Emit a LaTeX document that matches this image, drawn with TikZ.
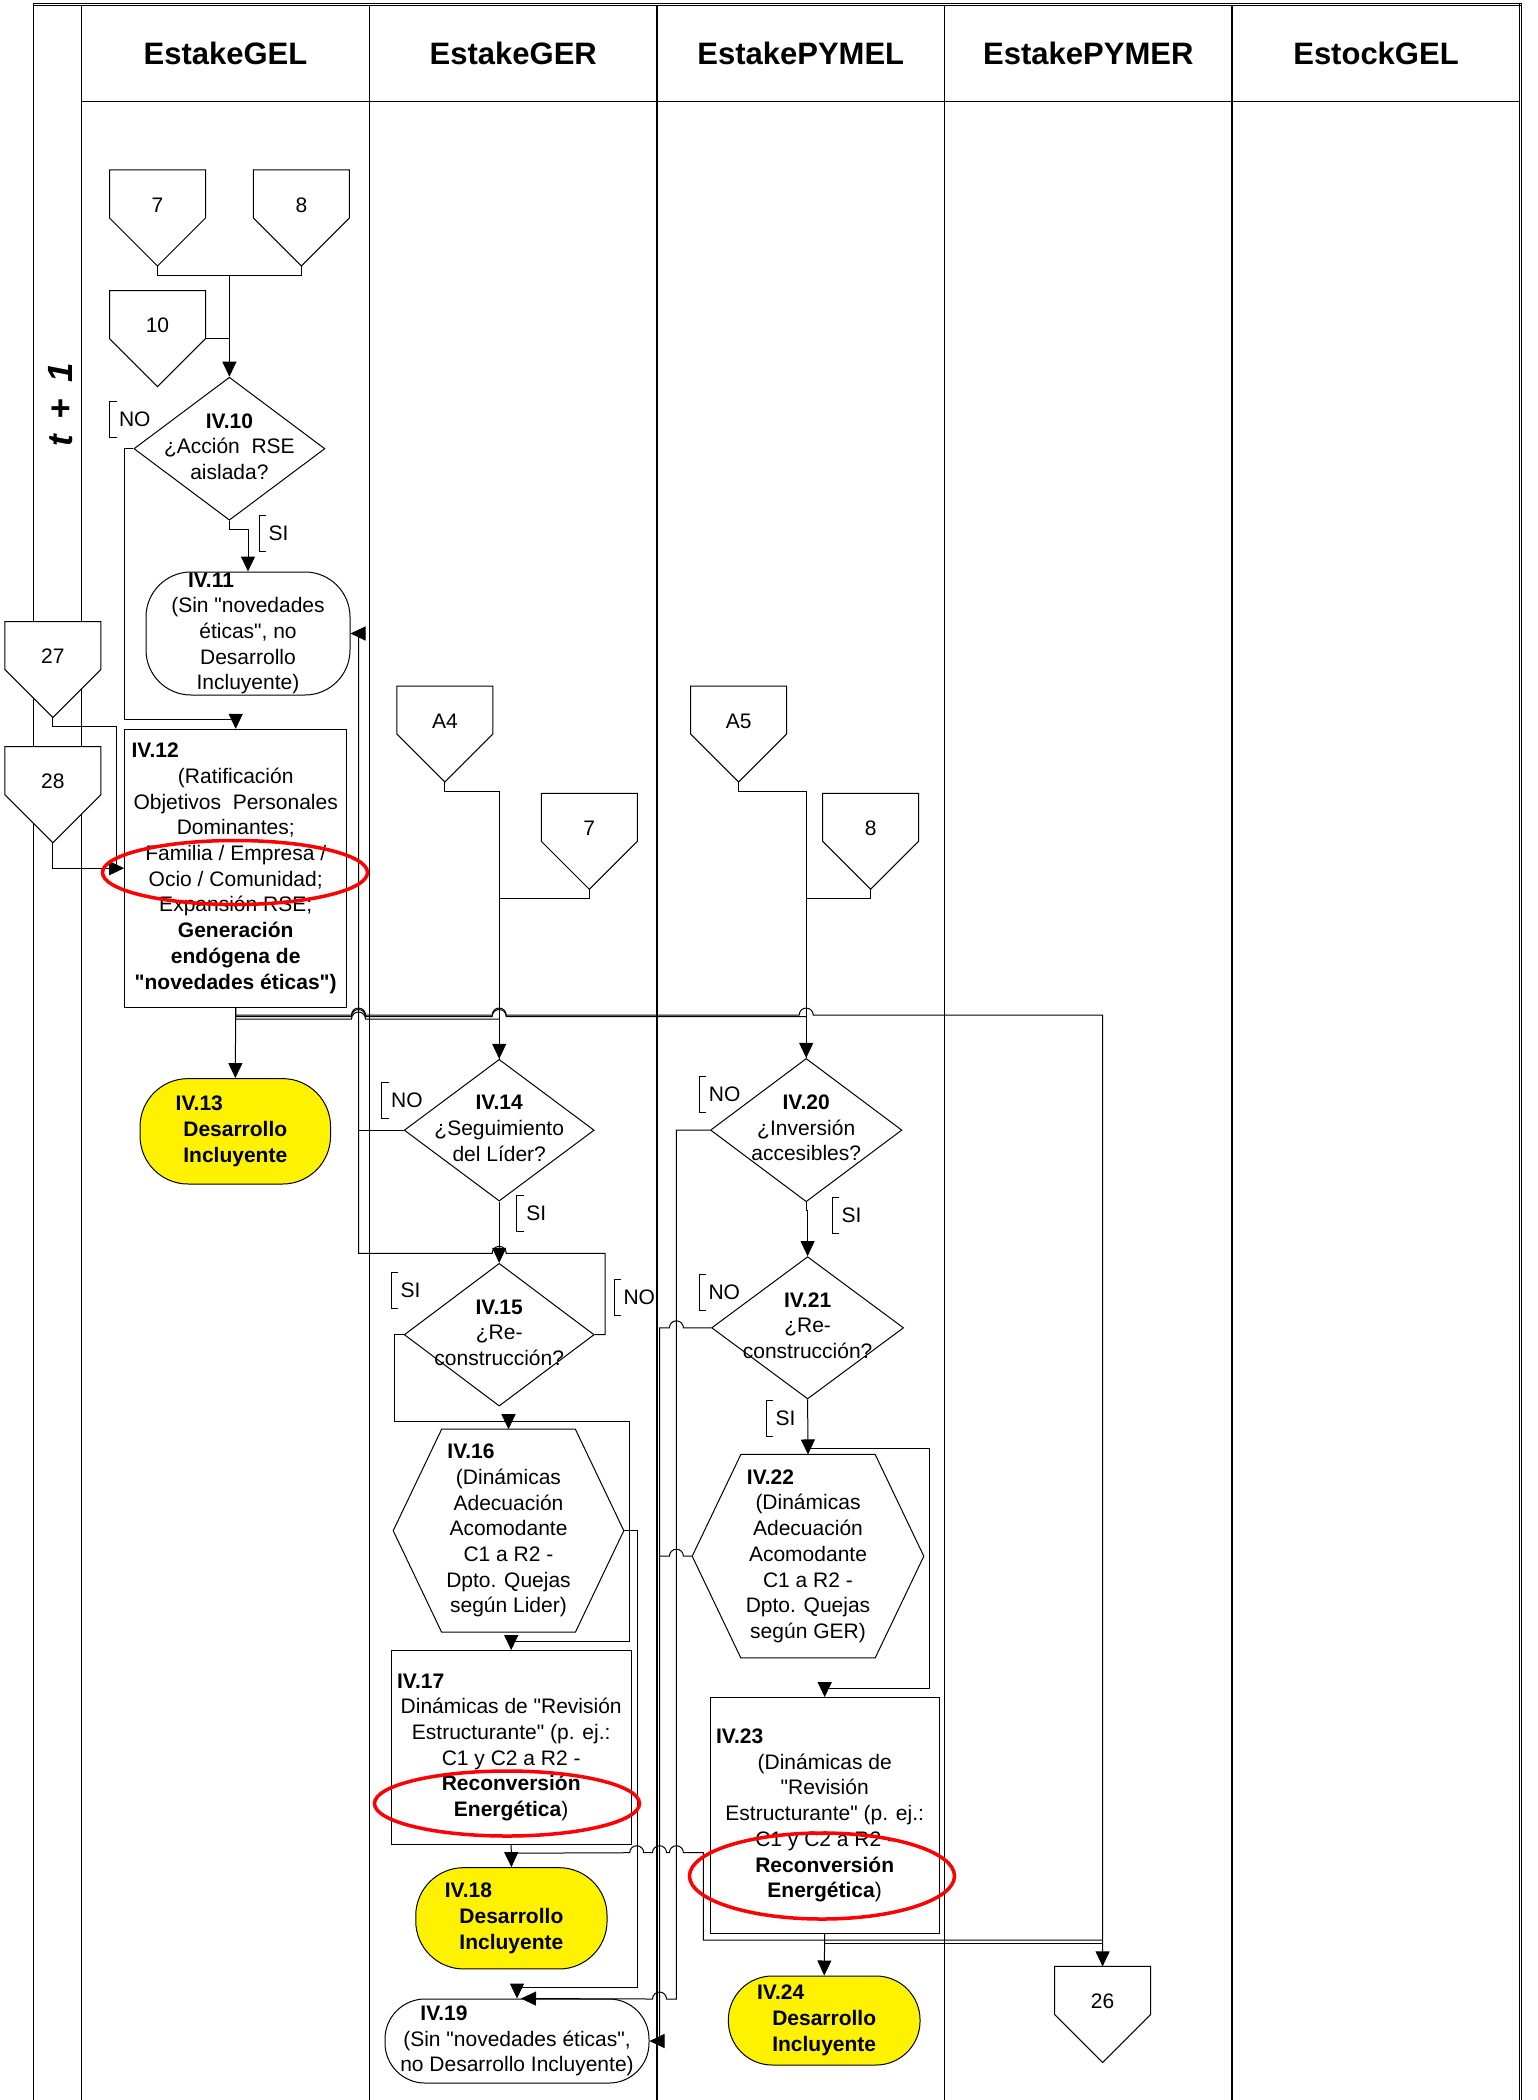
\documentclass[tikz,border=0pt]{standalone}
\usepackage{fontspec}
\setmainfont{Liberation Sans}[Ligatures=TeXOff]
\usetikzlibrary{arrows.meta,shapes.geometric,calc}

\tikzset{
  arr/.style={-{Triangle[length=15pt,width=14pt]}},
  frame/.style={line width=1.3pt},
  lanehead/.style={font=\fontsize{31}{36}\selectfont\bfseries},
  decision/.style={diamond, draw, fill=white, inner sep=0pt, minimum width=191pt, minimum height=143pt},
  process/.style={rectangle, draw, fill=white, inner sep=0pt, align=center},
  terminal/.style={rectangle, draw, fill=white, inner sep=0pt, align=center, rounded corners=#1},
  outcome/.style={terminal=#1, fill=yellow, font=\fontsize{21}{25.7}\selectfont\bfseries},
  hexproc/.style={rectangle, inner sep=0pt, align=center},
  brtag/.style={anchor=west, inner xsep=9pt, inner ysep=0pt, minimum height=35pt},
  ring/.style={red, line width=3.5pt}
}

% off-page connector: name, left x, top y, label
\newcommand{\offpage}[4]{%
  \draw[fill=white] (#2,#3) -- ++(96,0) -- ++(0,48) -- ++(-48,48) -- ++(-48,-48) -- cycle;
  \node (#1) at (#2+48,#3+35) {#4};
  \coordinate (#1-top) at (#2+48,#3);
  \coordinate (#1-tip) at (#2+48,#3+96);
  \coordinate (#1-r) at (#2+96,#3+48);
}
% hexagon outline round a node
\newcommand{\hexborder}[1]{%
  \draw (#1.west) -- ($(#1.north west)!0.21!(#1.north east)$) -- ($(#1.north west)!0.79!(#1.north east)$)
    -- (#1.east) -- ($(#1.south west)!0.79!(#1.south east)$) -- ($(#1.south west)!0.21!(#1.south east)$) -- cycle;
}
% branch label with bracket: name, x, y, text
\newcommand{\brlabel}[4]{%
  \node[brtag] (#1) at (#2,#3) {#4};
  \draw (#1.north west) ++(7,0) -- (#1.north west) -- (#1.south west) -- ++(7,0);
}
\newcommand{\dtxt}[1]{\makebox[0pt]{\begin{tabular}{@{}c@{}}#1\end{tabular}}}

\begin{document}
\begin{tikzpicture}[x=1pt, y=-1pt, line width=1pt, font=\fontsize{21}{25.7}\selectfont]
\useasboundingbox (0,0) rectangle (1538,2100);

% frame and lanes
\draw[line width=0.9pt] (33.4,3.3) -- (1520.8,3.3);
\draw[line width=0.9pt] (33.4,5.7) -- (1520.8,5.7);
\draw[frame] (33.4,3.3) -- (33.4,2100);
\draw[frame] (81.5,5.7) -- (81.5,2100);
\draw[line width=0.9pt] (1519.2,3.3) -- (1519.2,2100);
\draw[line width=0.9pt] (1521.2,3.3) -- (1521.2,2100);
\draw[frame] (81.5,101.8) -- (1520,101.8);
\foreach \x in {369.5,657,944.5,1232}
  \draw[frame] (\x,5.7) -- (\x,2100);
\foreach \x/\name in {225.5/EstakeGEL, 513.3/EstakeGER, 800.8/EstakePYMEL, 1088.3/EstakePYMER, 1376/EstockGEL}
  \node[lanehead] (h-\name) at (\x,53.5) {\name};
\node[font=\fontsize{35}{40}\selectfont\bfseries\itshape, rotate=90] (period) at (61,405) {t\hspace{0.45em}+\hspace{0.45em}1};

% off-page connectors
\offpage{g7}{109.5}{170}{7}
\offpage{g8}{253.4}{170}{8}
\offpage{g10}{109.5}{290.6}{10}
\offpage{p27}{4.9}{621.5}{27}
\offpage{p28}{4.9}{746.7}{28}
\offpage{a4}{396.9}{686}{A4}
\offpage{r7}{541.3}{793.3}{7}
\offpage{a5}{690.6}{686}{A5}
\offpage{m8}{822.6}{793.3}{8}
\offpage{p26}{1054.6}{1966.4}{26}

% EstakeGEL
\node[decision] (iv10) at (229.4,448.7) {\dtxt{\textbf{IV.10}\\¿Acción\ \ RSE\\aislada?}};
\node[terminal=45pt, minimum width=204pt, minimum height=123pt] (iv11) at (248,633.5)
  {\textbf{IV.11}\hspace*{74pt}\\(Sin "novedades\\éticas", no\\Desarrollo\\Incluyente)};
\node[process, minimum width=222pt, minimum height=277.7pt] (iv12) at (235.7,868.2)
  {\textbf{IV.12}\hspace*{161pt}\\(Ratificación\\Objetivos\ \ Personales\\Dominantes;\\Familia / Empresa /\\Ocio / Comunidad;\\Expansión RSE;\\\textbf{Generación}\\\textbf{endógena de}\\\textbf{"novedades éticas")}};
\node[outcome=48pt, minimum width=190.5pt, minimum height=105.4pt] (iv13) at (235.3,1131.3)
  {IV.13\hspace*{72pt}\\Desarrollo\\Incluyente};

% EstakeGER
\node[decision, minimum width=190pt, minimum height=141.7pt] (iv14) at (499.2,1130.2) {\dtxt{\textbf{IV.14}\\¿Seguimiento\\del Líder?}};
\node[decision, minimum width=190pt, minimum height=142.7pt] (iv15) at (499.2,1334.7) {\dtxt{\textbf{IV.15}\\¿Re-\\construcción?}};
\node[hexproc, minimum width=229.6pt, minimum height=202pt] (iv16) at (508.5,1530.7)
  {\textbf{IV.16}\hspace*{75pt}\\(Dinámicas\\Adecuación\\Acomodante\\C1 a R2 -\\Dpto. Quejas\\según Lider)};
\hexborder{iv16}
\node[process, minimum width=239.6pt, minimum height=193.4pt] (iv17) at (511.2,1747.3)
  {\textbf{IV.17}\hspace*{181pt}\\Dinámicas de "Revisión\\Estructurante" (p. ej.:\\C1 y C2 a R2 -\\\textbf{Reconversión}\\\textbf{Energética})};
\node[outcome=48pt, minimum width=191.3pt, minimum height=101.3pt] (iv18) at (511.4,1918.3)
  {IV.18\hspace*{86pt}\\Desarrollo\\Incluyente};
\node[terminal=40pt, minimum width=264pt, minimum height=84pt] (iv19) at (517,2041)
  {\textbf{IV.19}\hspace*{146pt}\\(Sin "novedades éticas",\\no Desarrollo Incluyente)};

% EstakePYMEL
\node[decision, minimum width=191.4pt, minimum height=143.3pt] (iv20) at (806.2,1130.1) {\dtxt{\textbf{IV.20}\\¿Inversión\\accesibles?}};
\node[decision, minimum width=192pt, minimum height=142.3pt] (iv21) at (807.6,1327.8) {\dtxt{\textbf{IV.21}\\¿Re-\\construcción?}};
\node[hexproc, minimum width=230.6pt, minimum height=202.5pt] (iv22) at (808,1556.2)
  {\textbf{IV.22}\hspace*{75pt}\\(Dinámicas\\Adecuación\\Acomodante\\C1 a R2 -\\Dpto. Quejas\\según GER)};
\hexborder{iv22}
\node[process, minimum width=229.3pt, minimum height=235.7pt] (iv23) at (824.7,1815.5)
  {\textbf{IV.23}\hspace*{170pt}\\(Dinámicas de\\"Revisión\\Estructurante" (p. ej.:\\C1 y C2 a R2 -\\\textbf{Reconversión}\\\textbf{Energética})};
\node[outcome=44pt, minimum width=191.7pt, minimum height=89pt] (iv24) at (824.2,2020.5)
  {IV.24\hspace*{87pt}\\Desarrollo\\Incluyente};

% connectors, EstakeGEL
\coordinate (j1) at (229.4,275.4);
\draw (g7-tip) |- (j1) -| (g8-tip);
\draw[arr] (j1) -- (iv10.north);
\draw (g10-r) -- (g10-r -| j1);
\draw[arr] (iv10.west) -- ++(-9,0) |- ($(iv12.north)+(0,-9)$) -- (iv12.north);
\draw[arr] (iv10.south) -- ++(0,9) -| (iv11.north);
\draw (p27-tip) -- ++(0,9) -| ($(iv12.west)+(-8,0)$);
\draw[arr] (p28-tip) |- (iv12.west);
\draw[arr] (iv12.south) -- (iv13.north);
\draw (iv12.south) |- (351.5,1019) arc[start angle=180,end angle=360,radius=7] -- (iv14.north |- 0,1019);
\draw (iv12.south) |- (351.5,1016.5) arc[start angle=180,end angle=360,radius=7]
  -- (492.2,1016.5) arc[start angle=180,end angle=360,radius=7] -- (iv20.north |- 0,1016.5);
\draw[arr] (iv12.south) |- (351.5,1015) arc[start angle=180,end angle=360,radius=7]
  -- (492.2,1015) arc[start angle=180,end angle=360,radius=7]
  -- (799.2,1015) arc[start angle=180,end angle=360,radius=7] -| (p26-top);

% connectors, EstakeGER
\coordinate (k1) at (358.5,1253.3);
\draw[arr] (a4-tip) -- ++(0,9) -| (iv14.north);
\draw (r7-tip) -- ++(0,9) -| (iv14.north);
\draw (iv14.west) -- (iv14.west -| k1);
\draw[arr] (iv14.south) -- (iv15.north);
\draw[arr] (iv15.east) -- ++(10.4,0) |- (506.2,1253.3) arc[start angle=0,end angle=-180,radius=7]
  -- (k1) -- (k1 |- iv11.east) -- (iv11.east);
\coordinate (t16) at ($(iv16.north)+(0,-8)$);
\draw[arr] (iv15.west) -- ++(-9.7,0) |- (t16) -- (iv16.north);
\draw[arr] (t16) -| (629.8,1641) -| (iv17.north);
\draw[arr] (iv16.east) -- ++(13.4,0) |- ($(iv19.north)+(0,-11)$) -- (iv19.north);
\draw[arr] (iv17.south) -- (iv18.north);
\coordinate (b17) at ($(iv17.south)+(0,8.7)$);
\coordinate (m26) at (p26-top |- 0,1940);
\draw (b17) -- (629.7,1852.7) arc[start angle=180,end angle=360,radius=7]
  -- (652.5,1852.7) arc[start angle=180,end angle=360,radius=7]
  -- (669.4,1852.7) arc[start angle=180,end angle=360,radius=7]
  -- (703.3,1852.7) |- (m26);

% connectors, EstakePYMEL
\draw[arr] (a5-tip) -- ++(0,9) -| (iv20.north);
\draw (m8-tip) -- ++(0,9) -| (iv20.north);
\draw[arr] (iv20.west) -- (676.4,1130.1) -- (676.4,1999) -- (666.5,1999)
  arc[start angle=0,end angle=-180,radius=7] -- ($(iv19.north)+(4,0)$);
\draw[arr] (iv20.south) -- ++(0,8) -| (iv21.north);
\draw[arr] (iv21.west) -- (683.4,1327.8) arc[start angle=0,end angle=-180,radius=7] -- (659.5,1327.8) |- (iv19.east);
\draw (iv22.west) -- (683.4,1556.2) arc[start angle=0,end angle=-180,radius=7] -- (659.5,1556.2);
\coordinate (t22) at ($(iv22.north)+(0,-6.4)$);
\draw[arr] (iv21.south) -- (iv22.north);
\draw[arr] (t22) -| (929.5,1688.6) -| (iv23.north);
\draw[arr] (iv23.south) -- (iv24.north);
\draw (iv23.south) |- (p26-top |- 0,1943);

% branch labels
\brlabel{no10}{109.5}{419}{NO}
\brlabel{si10}{259}{533}{SI}
\brlabel{no14}{381.7}{1100.5}{NO}
\brlabel{si14}{516.8}{1213}{SI}
\brlabel{si15}{391}{1290.5}{SI}
\brlabel{no15}{614}{1297.5}{NO}
\brlabel{no20}{699.4}{1094.6}{NO}
\brlabel{si20}{832}{1215.5}{SI}
\brlabel{no21}{699}{1292.5}{NO}
\brlabel{si21}{766}{1418}{SI}

% red marks
\draw[ring] (235,872.5) ellipse[x radius=132.5, y radius=32];
\draw[ring] (507,1803.5) ellipse[x radius=132.5, y radius=32.5];
\draw[ring] (822,1876) ellipse[x radius=132.5, y radius=43];
\end{tikzpicture}
\end{document}
